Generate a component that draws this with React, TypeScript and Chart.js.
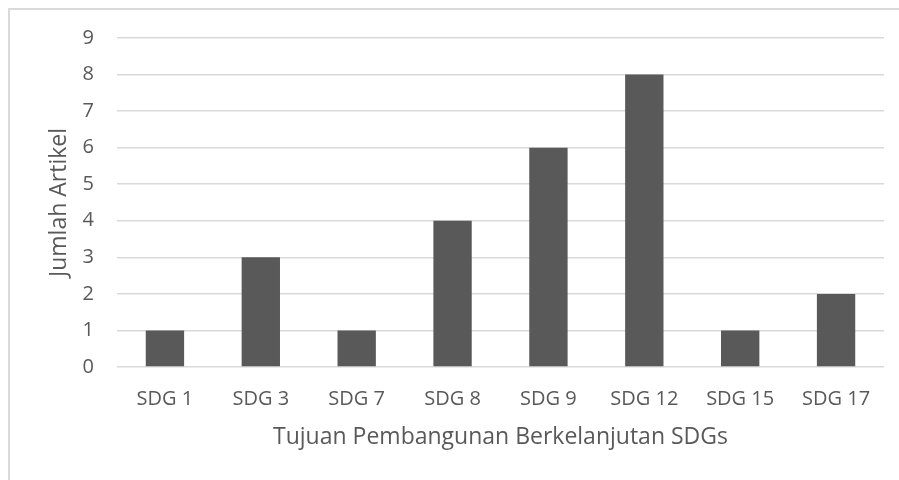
import React, { useEffect, useRef } from "react";
import { Chart, registerables } from "chart.js";

Chart.register(...registerables);

const categories = ["SDG 1", "SDG 3", "SDG 7", "SDG 8", "SDG 9", "SDG 12", "SDG 15", "SDG 17"];
const articleCounts = [1, 3, 1, 4, 6, 8, 1, 2];
const yTickValues = [0, 1, 2, 3, 4, 5, 6, 7, 8, 9];

const FONT = "'Open Sans', 'Noto Sans', sans-serif";
const TEXT = "#595959";
const GRID = "#d9d9d9";

export default function App() {
  const ref = useRef<HTMLCanvasElement | null>(null);

  useEffect(() => {
    if (!ref.current) return;
    const chart = new Chart(ref.current, {
      type: "bar",
      data: {
        labels: categories,
        datasets: [
          {
            label: "Jumlah Artikel",
            data: articleCounts,
            backgroundColor: "#595959",
            borderWidth: 0,
            barPercentage: 0.4,
            categoryPercentage: 1,
          },
        ],
      },
      options: {
        responsive: false,
        animation: false,
        devicePixelRatio: 1,
        layout: { padding: { left: 0, top: 38, right: 15, bottom: 0 } },
        plugins: { legend: { display: false }, tooltip: { enabled: false } },
        scales: {
          x: {
            grid: { display: false, drawTicks: false },
            border: { display: false },
            ticks: {
              color: TEXT,
              font: { family: FONT, size: 20 },
              padding: 20,
              maxRotation: 0,
            },
            title: {
              display: true,
              text: "Tujuan Pembangunan Berkelanjutan SDGs",
              color: TEXT,
              font: { family: FONT, size: 23 },
              padding: { top: 0, bottom: 29 },
            },
            afterFit: (s: any) => {
              s.height = 113;
            },
          },
          y: {
            min: 0,
            max: 9,
            afterBuildTicks: (s: any) => {
              s.ticks = yTickValues.map((v) => ({ value: v }));
            },
            grid: { color: GRID, lineWidth: 1.5, drawTicks: false },
            border: { display: false },
            ticks: {
              color: TEXT,
              font: { family: FONT, size: 20 },
              padding: 23,
              stepSize: 1,
            },
            title: {
              display: true,
              text: "Jumlah Artikel",
              color: TEXT,
              font: { family: FONT, size: 23 },
              padding: { top: 46, bottom: 0 },
            },
            afterFit: (s: any) => {
              s.width = 117;
            },
          },
        },
      },
    });
    return () => chart.destroy();
  }, []);

  return (
    <div style={{ position: "fixed", left: 0, top: 0, width: 899, height: 480, overflow: "hidden", background: "#fff" }}>
      <div
        style={{
          position: "absolute",
          left: 8,
          top: 8,
          width: 1000,
          height: 1000,
          border: "2px solid #d9d9d9",
          boxSizing: "border-box",
        }}
      />
      <canvas ref={ref} width={899} height={480} style={{ position: "absolute", left: 0, top: 0 }} />
    </div>
  );
}
